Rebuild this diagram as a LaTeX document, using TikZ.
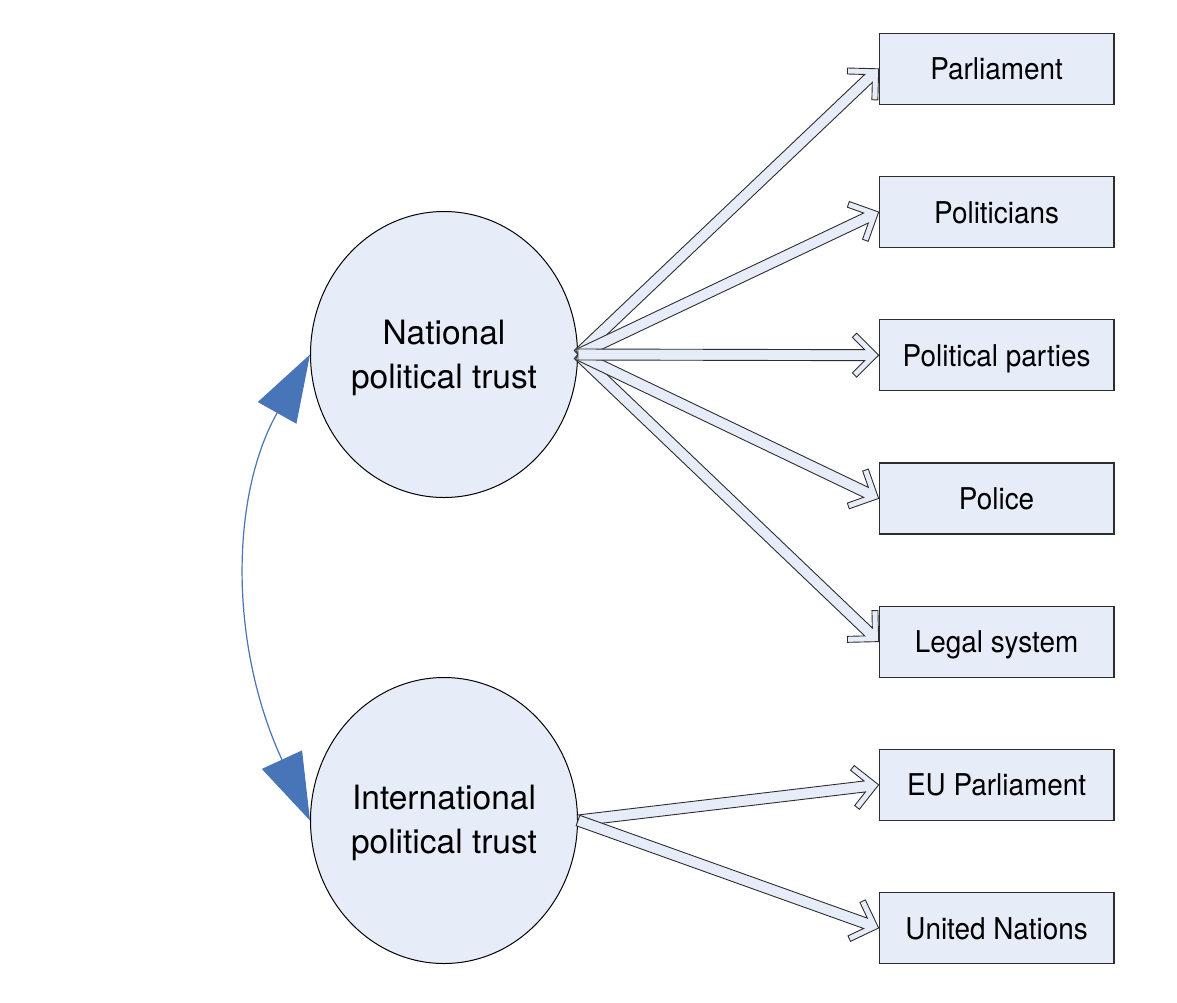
\documentclass[tikz,border=0pt]{standalone}
\usepackage{fontspec}
\setmainfont{TeX Gyre Heros}
\usepackage{graphicx}
\usetikzlibrary{shapes.geometric,calc,arrows.meta}
\definecolor{lightfill}{RGB}{231,237,248}
\definecolor{edgegray}{RGB}{45,45,45}
\definecolor{tieblue}{RGB}{72,116,184}
\newcommand{\boxtext}[1]{\scalebox{0.93}[1]{#1}}
\begin{document}
\begin{tikzpicture}[x=1pt,y=-1pt,
  factor/.style={ellipse, draw=black, line width=1pt, fill=lightfill,
    minimum width=267pt, minimum height=286pt, inner sep=0pt, align=center,
    font=\fontsize{33.5}{44}\selectfont},
  item/.style={rectangle, draw=edgegray, line width=1.2pt, fill=lightfill,
    minimum width=234.7pt, minimum height=71pt, inner sep=0pt,
    text height=22pt, text depth=0pt, font=\fontsize{30}{36}\selectfont},
  blockarrow/.style={draw=edgegray, fill=lightfill, line width=0.9pt, line join=miter,
    to path={
      ($(\tikztostart)!5.5pt!90:(\tikztotarget)$)
      -- ($(\tikztotarget)!14pt!(\tikztostart)!5.5pt!-90:(\tikztostart)$)
      -- ($(\tikztotarget)!26.24pt!(\tikztostart)!17.76pt!-90:(\tikztostart)$)
      -- ($(\tikztotarget)!22pt!(\tikztostart)!22pt!-90:(\tikztostart)$)
      -- (\tikztotarget)
      -- ($(\tikztotarget)!22pt!(\tikztostart)!22pt!90:(\tikztostart)$)
      -- ($(\tikztotarget)!26.24pt!(\tikztostart)!17.76pt!90:(\tikztostart)$)
      -- ($(\tikztotarget)!14pt!(\tikztostart)!5.5pt!90:(\tikztostart)$)
      -- ($(\tikztostart)!5.5pt!-90:(\tikztotarget)$)
      -- cycle}},
  tie/.style={draw=tieblue, line width=1.2pt,
    {Triangle[length=67pt,width=44pt]}-{Triangle[length=67pt,width=44pt]}}
]
\useasboundingbox (0,0) rectangle (1177,1002);

\node[factor] (nat) at (444,354.5) {\rule{0pt}{32pt}National\\political trust};
\node[factor] (intl) at (444,820.5) {\rule{0pt}{30pt}International\\political trust};

\node[item] (parl) at (996.6,68.8) {\boxtext{Parliament}};
\node[item] (poli) at (996.6,212) {\boxtext{Politicians}};
\node[item] (part) at (996.6,355.2) {\boxtext{Political parties}};
\node[item] (police) at (996.6,498.4) {\boxtext{Police}};
\node[item] (legal) at (996.6,641.6) {\boxtext{Legal system}};
\node[item] (eup) at (996.6,784.8) {\boxtext{EU Parliament}};
\node[item] (un) at (996.6,928) {\boxtext{United Nations}};

\path[blockarrow] (nat.east) to (parl.west);
\path[blockarrow] (nat.east) to (poli.west);
\path[blockarrow] (nat.east) to (legal.west);
\path[blockarrow] (nat.east) to (police.west);
\path[blockarrow] (nat.east) to (part.west);
\path[blockarrow] (intl.east) to (eup.west);
\path[blockarrow] (intl.east) to (un.west);

\draw[tie] (nat.west) .. controls +(-79.9,141.8) and +(-81,-175.6) .. (intl.west);
\end{tikzpicture}
\end{document}
